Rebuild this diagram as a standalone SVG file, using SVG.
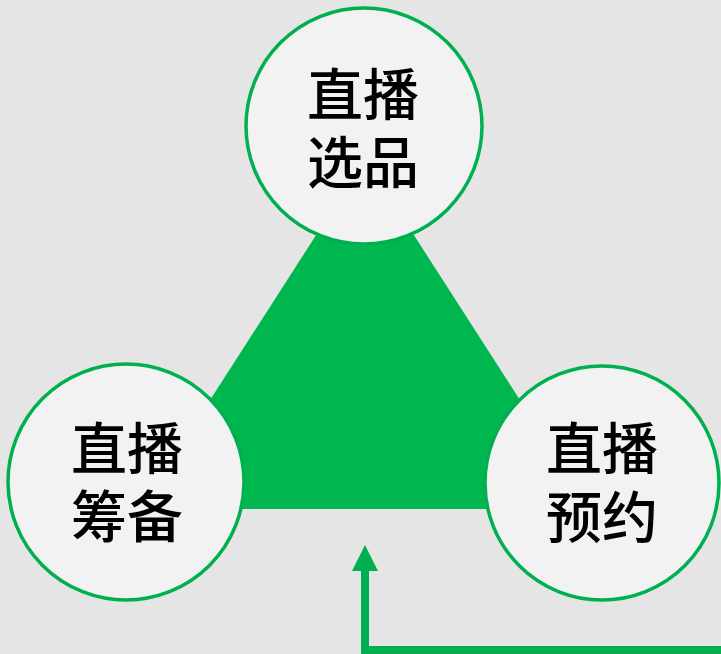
<svg xmlns="http://www.w3.org/2000/svg" width="721" height="654" viewBox="0 0 721 654">
<style>
.node circle{fill:#f2f2f2;stroke:#00b050;stroke-width:3.5}
.node text{font-family:"Noto Sans CJK SC","Noto Sans",sans-serif;font-size:56px;font-weight:500;fill:#000;text-anchor:middle}
</style>
<defs>
<marker id="ah" markerUnits="userSpaceOnUse" markerWidth="26" markerHeight="26" refX="0" refY="13" orient="auto" viewBox="0 0 26 26">
<path d="M0,0 L26,13 L0,26 Z" fill="#00b050"/>
</marker>
</defs>
<rect width="721" height="654" fill="#e5e5e5"/>
<polygon points="365,159 140,509 590,509" fill="#00b64f"/>
<g id="connectors">
<polyline points="725,650 365,650 365,571" fill="none" stroke="#00b050" stroke-width="8" marker-end="url(#ah)"/>
</g>
<g id="node-top" class="node">
<circle cx="364" cy="126" r="118"/>
<text x="363" y="115">直播</text>
<text x="363" y="183">选品</text>
</g>
<g id="node-left" class="node">
<circle cx="126" cy="482" r="118"/>
<text x="127" y="469">直播</text>
<text x="127" y="537">筹备</text>
</g>
<g id="node-right" class="node">
<circle cx="602" cy="483" r="117"/>
<text x="602" y="469">直播</text>
<text x="602" y="538">预约</text>
</g>
</svg>
